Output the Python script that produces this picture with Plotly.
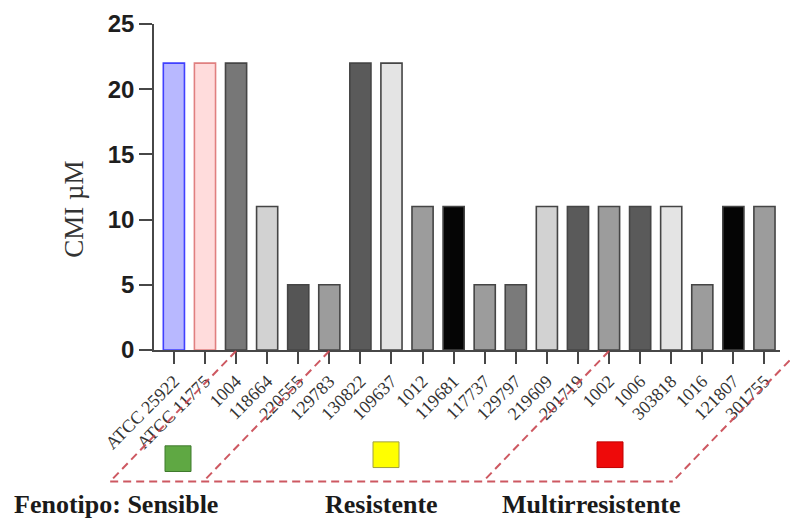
import plotly.graph_objects as go

# Strains tested and their minimum inhibitory concentration (µM)
strains = ["ATCC 25922", "ATCC 11775", "1004", "118664", "220555", "129783",
           "130822", "109637", "1012", "119681", "117737", "129797",
           "219609", "201719", "1002", "1006", "303818", "1016",
           "121807", "301755"]
cmi_values = [22, 22, 22, 11, 5, 5, 22, 22, 11, 11, 5, 5,
              11, 11, 11, 11, 11, 5, 11, 11]
y_ticks = [0, 5, 10, 15, 20, 25]

# Phenotype groups
phenotypes = ["Fenotipo: Sensible", "Resistente", "Multirresistente"]

# Bar styling per strain
fills = ["#b8b8ff", "#ffdcdc", "#777777", "#d2d2d2", "#555555", "#9c9c9c",
         "#5a5a5a", "#e4e4e4", "#9c9c9c", "#050505", "#9c9c9c", "#7a7a7a",
         "#d2d2d2", "#5a5a5a", "#9c9c9c", "#5a5a5a", "#e4e4e4", "#9c9c9c",
         "#050505", "#9c9c9c"]
edges = ["#4040ff", "#e08080"] + ["#454545"] * 18

X_RANGE = [-0.64, 19.5]
PLOT_L, PLOT_R, PLOT_T, PLOT_B = 154, 780, 20, 350


def xp_idx(i):
    """Category index -> paper x."""
    return (i - X_RANGE[0]) / (X_RANGE[1] - X_RANGE[0])


def xp(px):
    return (px - PLOT_L) / (PLOT_R - PLOT_L)


def yp(py):
    return (PLOT_B - py) / (PLOT_B - PLOT_T)


fig = go.Figure(
    go.Bar(
        x=list(range(len(strains))),
        y=cmi_values,
        marker=dict(color=fills, line=dict(color=edges, width=1.6)),
        hoverinfo="skip",
    )
)

axis_col = "#474747"
fig.update_layout(
    width=790,
    height=522,
    margin=dict(l=PLOT_L, r=790 - PLOT_R, t=PLOT_T, b=522 - PLOT_B),
    plot_bgcolor="white",
    paper_bgcolor="white",
    bargap=0.32,
    showlegend=False,
    xaxis=dict(
        range=X_RANGE,
        tickmode="array",
        tickvals=list(range(len(strains))),
        ticktext=strains,
        tickangle=-45,
        tickfont=dict(family="Liberation Serif", size=18, color="#333333"),
        showline=True,
        linecolor=axis_col,
        linewidth=1.5,
        ticks="outside",
        ticklen=12,
        tickwidth=1.5,
        tickcolor=axis_col,
        showgrid=False,
        zeroline=False,
    ),
    yaxis=dict(
        range=[0, 25],
        tickmode="array",
        tickvals=y_ticks,
        tickfont=dict(family="Liberation Sans", size=24, color="#1e1e1e",
                      weight="bold"),
        showline=True,
        linecolor=axis_col,
        linewidth=1.5,
        ticks="outside",
        ticklen=13,
        tickwidth=1.5,
        tickcolor=axis_col,
        showgrid=False,
        zeroline=False,
    ),
)

# Y-axis title
fig.add_annotation(
    text="CMI µM", xref="paper", yref="paper", x=xp(74), y=yp(208),
    textangle=-90, showarrow=False, xanchor="center", yanchor="middle",
    font=dict(family="Liberation Serif", size=27, color="#333333"),
)

# Dashed parallelograms grouping strains by phenotype
dash_col = "rgba(200,70,80,0.9)"
line_style = dict(color=dash_col, width=2, dash="8px,5px")
y_top, y_bot = yp(351), yp(483)
shift = 4.05
for top_idx in [2, 5, 14, 20.1]:
    fig.add_shape(type="line", xref="paper", yref="paper",
                  x0=xp_idx(top_idx), y0=y_top,
                  x1=xp_idx(top_idx - shift), y1=y_bot,
                  line=line_style)
fig.add_shape(type="line", xref="paper", yref="paper",
              x0=xp_idx(2 - shift), y0=y_bot,
              x1=xp_idx(20.1 - shift), y1=y_bot,
              line=line_style)

# Phenotype colour keys
keys = [("#5fa843", "#3f7a2c", 165, 447),
        ("#ffff00", "#a0a040", 373, 443),
        ("#ee0a0a", "#c00000", 597, 443)]
for fill, edge, px0, py0 in keys:
    fig.add_shape(type="rect", xref="paper", yref="paper",
                  x0=xp(px0), x1=xp(px0 + 26), y0=yp(py0), y1=yp(py0 + 26),
                  fillcolor=fill, line=dict(color=edge, width=1))

# Phenotype labels
for label, cx in zip(phenotypes, [116, 381, 591]):
    fig.add_annotation(
        text=f"<b>{label}</b>", xref="paper", yref="paper",
        x=xp(cx), y=yp(506), showarrow=False,
        xanchor="center", yanchor="middle",
        font=dict(family="Liberation Serif", size=26, color="#1a1a1a"),
    )

fig.write_html("out.html")
